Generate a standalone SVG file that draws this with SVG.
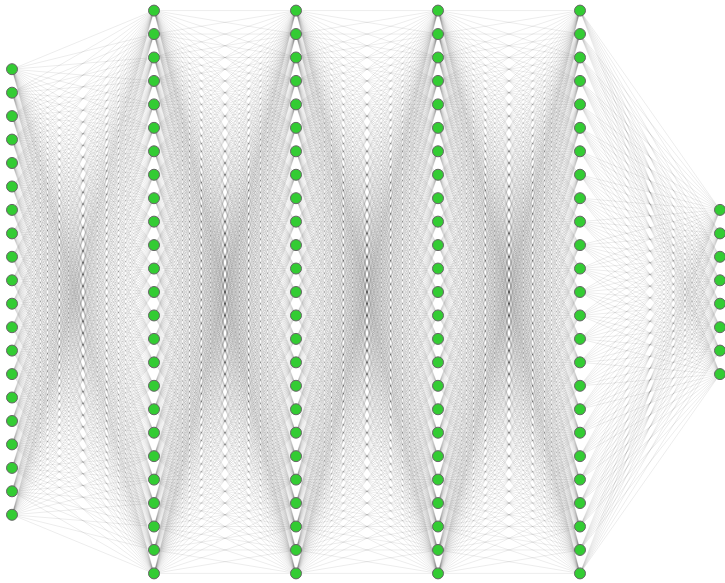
<svg xmlns="http://www.w3.org/2000/svg" xmlns:xlink="http://www.w3.org/1999/xlink" width="725" height="583" viewBox="0 0 725 583">
<style>
.e{fill:none;stroke:#000;stroke-opacity:.11;stroke-width:.7;vector-effect:non-scaling-stroke}
.n circle{fill:#33cc33;stroke:#666;stroke-width:1}
</style>
<defs>
<path id="f25" class="e" d="M-142 0L0 0M-142 0L0 23.45M-142 0L0 46.9M-142 0L0 70.35M-142 0L0 93.8M-142 0L0 117.25M-142 0L0 140.7M-142 0L0 164.15M-142 0L0 187.6M-142 0L0 211.05M-142 0L0 234.5M-142 0L0 257.95M-142 0L0 281.4M-142 0L0 304.85M-142 0L0 328.3M-142 0L0 351.75M-142 0L0 375.2M-142 0L0 398.65M-142 0L0 422.1M-142 0L0 445.55M-142 0L0 469M-142 0L0 492.45M-142 0L0 515.9M-142 0L0 539.35M-142 0L0 562.8"/>
<path id="f20" class="e" d="M-142 0L0 -58.625M-142 0L0 -35.175M-142 0L0 -11.725M-142 0L0 11.725M-142 0L0 35.175M-142 0L0 58.625M-142 0L0 82.075M-142 0L0 105.525M-142 0L0 128.975M-142 0L0 152.425M-142 0L0 175.875M-142 0L0 199.325M-142 0L0 222.775M-142 0L0 246.225M-142 0L0 269.675M-142 0L0 293.125M-142 0L0 316.575M-142 0L0 340.025M-142 0L0 363.475M-142 0L0 386.925M-142 0L0 410.375M-142 0L0 433.825M-142 0L0 457.275M-142 0L0 480.725M-142 0L0 504.175"/>
<path id="f8" class="e" d="M-140 0L0 199.325M-140 0L0 222.775M-140 0L0 246.225M-140 0L0 269.675M-140 0L0 293.125M-140 0L0 316.575M-140 0L0 340.025M-140 0L0 363.475"/>
<g id="k25">
<use href="#f25"/>
<use href="#f25" transform="matrix(1 -.165141 0 1 0 0)"/>
<use href="#f25" transform="matrix(1 -.330282 0 1 0 0)"/>
<use href="#f25" transform="matrix(1 -.495423 0 1 0 0)"/>
<use href="#f25" transform="matrix(1 -.660564 0 1 0 0)"/>
<use href="#f25" transform="matrix(1 -.825705 0 1 0 0)"/>
<use href="#f25" transform="matrix(1 -.990846 0 1 0 0)"/>
<use href="#f25" transform="matrix(1 -1.155987 0 1 0 0)"/>
<use href="#f25" transform="matrix(1 -1.321128 0 1 0 0)"/>
<use href="#f25" transform="matrix(1 -1.486269 0 1 0 0)"/>
<use href="#f25" transform="matrix(1 -1.65141 0 1 0 0)"/>
<use href="#f25" transform="matrix(1 -1.816551 0 1 0 0)"/>
<use href="#f25" transform="matrix(1 -1.981692 0 1 0 0)"/>
<use href="#f25" transform="matrix(1 -2.146833 0 1 0 0)"/>
<use href="#f25" transform="matrix(1 -2.311974 0 1 0 0)"/>
<use href="#f25" transform="matrix(1 -2.477115 0 1 0 0)"/>
<use href="#f25" transform="matrix(1 -2.642256 0 1 0 0)"/>
<use href="#f25" transform="matrix(1 -2.807397 0 1 0 0)"/>
<use href="#f25" transform="matrix(1 -2.972538 0 1 0 0)"/>
<use href="#f25" transform="matrix(1 -3.137679 0 1 0 0)"/>
<use href="#f25" transform="matrix(1 -3.30282 0 1 0 0)"/>
<use href="#f25" transform="matrix(1 -3.467961 0 1 0 0)"/>
<use href="#f25" transform="matrix(1 -3.633102 0 1 0 0)"/>
<use href="#f25" transform="matrix(1 -3.798243 0 1 0 0)"/>
<use href="#f25" transform="matrix(1 -3.963384 0 1 0 0)"/>
</g>
</defs>
<g id="connectors">
<g transform="translate(154 69.225)">
<use href="#f20"/>
<use href="#f20" transform="matrix(1 -.165141 0 1 0 0)"/>
<use href="#f20" transform="matrix(1 -.330282 0 1 0 0)"/>
<use href="#f20" transform="matrix(1 -.495423 0 1 0 0)"/>
<use href="#f20" transform="matrix(1 -.660564 0 1 0 0)"/>
<use href="#f20" transform="matrix(1 -.825705 0 1 0 0)"/>
<use href="#f20" transform="matrix(1 -.990846 0 1 0 0)"/>
<use href="#f20" transform="matrix(1 -1.155987 0 1 0 0)"/>
<use href="#f20" transform="matrix(1 -1.321128 0 1 0 0)"/>
<use href="#f20" transform="matrix(1 -1.486269 0 1 0 0)"/>
<use href="#f20" transform="matrix(1 -1.65141 0 1 0 0)"/>
<use href="#f20" transform="matrix(1 -1.816551 0 1 0 0)"/>
<use href="#f20" transform="matrix(1 -1.981692 0 1 0 0)"/>
<use href="#f20" transform="matrix(1 -2.146833 0 1 0 0)"/>
<use href="#f20" transform="matrix(1 -2.311974 0 1 0 0)"/>
<use href="#f20" transform="matrix(1 -2.477115 0 1 0 0)"/>
<use href="#f20" transform="matrix(1 -2.642256 0 1 0 0)"/>
<use href="#f20" transform="matrix(1 -2.807397 0 1 0 0)"/>
<use href="#f20" transform="matrix(1 -2.972538 0 1 0 0)"/>
<use href="#f20" transform="matrix(1 -3.137679 0 1 0 0)"/>
</g>
<use href="#k25" transform="translate(296 10.6)"/>
<use href="#k25" transform="translate(438 10.6)"/>
<use href="#k25" transform="translate(580 10.6)"/>
<g transform="translate(720 10.6)">
<use href="#f8"/>
<use href="#f8" transform="matrix(1 -.1675 0 1 0 0)"/>
<use href="#f8" transform="matrix(1 -.335 0 1 0 0)"/>
<use href="#f8" transform="matrix(1 -.5025 0 1 0 0)"/>
<use href="#f8" transform="matrix(1 -.67 0 1 0 0)"/>
<use href="#f8" transform="matrix(1 -.8375 0 1 0 0)"/>
<use href="#f8" transform="matrix(1 -1.005 0 1 0 0)"/>
<use href="#f8" transform="matrix(1 -1.1725 0 1 0 0)"/>
<use href="#f8" transform="matrix(1 -1.34 0 1 0 0)"/>
<use href="#f8" transform="matrix(1 -1.5075 0 1 0 0)"/>
<use href="#f8" transform="matrix(1 -1.675 0 1 0 0)"/>
<use href="#f8" transform="matrix(1 -1.8425 0 1 0 0)"/>
<use href="#f8" transform="matrix(1 -2.01 0 1 0 0)"/>
<use href="#f8" transform="matrix(1 -2.1775 0 1 0 0)"/>
<use href="#f8" transform="matrix(1 -2.345 0 1 0 0)"/>
<use href="#f8" transform="matrix(1 -2.5125 0 1 0 0)"/>
<use href="#f8" transform="matrix(1 -2.68 0 1 0 0)"/>
<use href="#f8" transform="matrix(1 -2.8475 0 1 0 0)"/>
<use href="#f8" transform="matrix(1 -3.015 0 1 0 0)"/>
<use href="#f8" transform="matrix(1 -3.1825 0 1 0 0)"/>
<use href="#f8" transform="matrix(1 -3.35 0 1 0 0)"/>
<use href="#f8" transform="matrix(1 -3.5175 0 1 0 0)"/>
<use href="#f8" transform="matrix(1 -3.685 0 1 0 0)"/>
<use href="#f8" transform="matrix(1 -3.8525 0 1 0 0)"/>
<use href="#f8" transform="matrix(1 -4.02 0 1 0 0)"/>
</g>
</g>
<g id="nodes" class="n">
<g id="n0_0"><circle cx="12" cy="69.2" r="5.5"/></g>
<g id="n0_1"><circle cx="12" cy="92.7" r="5.5"/></g>
<g id="n0_2"><circle cx="12" cy="116.1" r="5.5"/></g>
<g id="n0_3"><circle cx="12" cy="139.6" r="5.5"/></g>
<g id="n0_4"><circle cx="12" cy="163" r="5.5"/></g>
<g id="n0_5"><circle cx="12" cy="186.5" r="5.5"/></g>
<g id="n0_6"><circle cx="12" cy="209.9" r="5.5"/></g>
<g id="n0_7"><circle cx="12" cy="233.4" r="5.5"/></g>
<g id="n0_8"><circle cx="12" cy="256.8" r="5.5"/></g>
<g id="n0_9"><circle cx="12" cy="280.3" r="5.5"/></g>
<g id="n0_10"><circle cx="12" cy="303.7" r="5.5"/></g>
<g id="n0_11"><circle cx="12" cy="327.2" r="5.5"/></g>
<g id="n0_12"><circle cx="12" cy="350.6" r="5.5"/></g>
<g id="n0_13"><circle cx="12" cy="374.1" r="5.5"/></g>
<g id="n0_14"><circle cx="12" cy="397.5" r="5.5"/></g>
<g id="n0_15"><circle cx="12" cy="421" r="5.5"/></g>
<g id="n0_16"><circle cx="12" cy="444.4" r="5.5"/></g>
<g id="n0_17"><circle cx="12" cy="467.9" r="5.5"/></g>
<g id="n0_18"><circle cx="12" cy="491.3" r="5.5"/></g>
<g id="n0_19"><circle cx="12" cy="514.8" r="5.5"/></g>
<g id="n1_0"><circle cx="154" cy="10.6" r="5.5"/></g>
<g id="n1_1"><circle cx="154" cy="34.05" r="5.5"/></g>
<g id="n1_2"><circle cx="154" cy="57.5" r="5.5"/></g>
<g id="n1_3"><circle cx="154" cy="80.95" r="5.5"/></g>
<g id="n1_4"><circle cx="154" cy="104.4" r="5.5"/></g>
<g id="n1_5"><circle cx="154" cy="127.85" r="5.5"/></g>
<g id="n1_6"><circle cx="154" cy="151.3" r="5.5"/></g>
<g id="n1_7"><circle cx="154" cy="174.75" r="5.5"/></g>
<g id="n1_8"><circle cx="154" cy="198.2" r="5.5"/></g>
<g id="n1_9"><circle cx="154" cy="221.65" r="5.5"/></g>
<g id="n1_10"><circle cx="154" cy="245.1" r="5.5"/></g>
<g id="n1_11"><circle cx="154" cy="268.55" r="5.5"/></g>
<g id="n1_12"><circle cx="154" cy="292" r="5.5"/></g>
<g id="n1_13"><circle cx="154" cy="315.45" r="5.5"/></g>
<g id="n1_14"><circle cx="154" cy="338.9" r="5.5"/></g>
<g id="n1_15"><circle cx="154" cy="362.35" r="5.5"/></g>
<g id="n1_16"><circle cx="154" cy="385.8" r="5.5"/></g>
<g id="n1_17"><circle cx="154" cy="409.25" r="5.5"/></g>
<g id="n1_18"><circle cx="154" cy="432.7" r="5.5"/></g>
<g id="n1_19"><circle cx="154" cy="456.15" r="5.5"/></g>
<g id="n1_20"><circle cx="154" cy="479.6" r="5.5"/></g>
<g id="n1_21"><circle cx="154" cy="503.05" r="5.5"/></g>
<g id="n1_22"><circle cx="154" cy="526.5" r="5.5"/></g>
<g id="n1_23"><circle cx="154" cy="549.95" r="5.5"/></g>
<g id="n1_24"><circle cx="154" cy="573.4" r="5.5"/></g>
<g id="n2_0"><circle cx="296" cy="10.6" r="5.5"/></g>
<g id="n2_1"><circle cx="296" cy="34.05" r="5.5"/></g>
<g id="n2_2"><circle cx="296" cy="57.5" r="5.5"/></g>
<g id="n2_3"><circle cx="296" cy="80.95" r="5.5"/></g>
<g id="n2_4"><circle cx="296" cy="104.4" r="5.5"/></g>
<g id="n2_5"><circle cx="296" cy="127.85" r="5.5"/></g>
<g id="n2_6"><circle cx="296" cy="151.3" r="5.5"/></g>
<g id="n2_7"><circle cx="296" cy="174.75" r="5.5"/></g>
<g id="n2_8"><circle cx="296" cy="198.2" r="5.5"/></g>
<g id="n2_9"><circle cx="296" cy="221.65" r="5.5"/></g>
<g id="n2_10"><circle cx="296" cy="245.1" r="5.5"/></g>
<g id="n2_11"><circle cx="296" cy="268.55" r="5.5"/></g>
<g id="n2_12"><circle cx="296" cy="292" r="5.5"/></g>
<g id="n2_13"><circle cx="296" cy="315.45" r="5.5"/></g>
<g id="n2_14"><circle cx="296" cy="338.9" r="5.5"/></g>
<g id="n2_15"><circle cx="296" cy="362.35" r="5.5"/></g>
<g id="n2_16"><circle cx="296" cy="385.8" r="5.5"/></g>
<g id="n2_17"><circle cx="296" cy="409.25" r="5.5"/></g>
<g id="n2_18"><circle cx="296" cy="432.7" r="5.5"/></g>
<g id="n2_19"><circle cx="296" cy="456.15" r="5.5"/></g>
<g id="n2_20"><circle cx="296" cy="479.6" r="5.5"/></g>
<g id="n2_21"><circle cx="296" cy="503.05" r="5.5"/></g>
<g id="n2_22"><circle cx="296" cy="526.5" r="5.5"/></g>
<g id="n2_23"><circle cx="296" cy="549.95" r="5.5"/></g>
<g id="n2_24"><circle cx="296" cy="573.4" r="5.5"/></g>
<g id="n3_0"><circle cx="438" cy="10.6" r="5.5"/></g>
<g id="n3_1"><circle cx="438" cy="34.05" r="5.5"/></g>
<g id="n3_2"><circle cx="438" cy="57.5" r="5.5"/></g>
<g id="n3_3"><circle cx="438" cy="80.95" r="5.5"/></g>
<g id="n3_4"><circle cx="438" cy="104.4" r="5.5"/></g>
<g id="n3_5"><circle cx="438" cy="127.85" r="5.5"/></g>
<g id="n3_6"><circle cx="438" cy="151.3" r="5.5"/></g>
<g id="n3_7"><circle cx="438" cy="174.75" r="5.5"/></g>
<g id="n3_8"><circle cx="438" cy="198.2" r="5.5"/></g>
<g id="n3_9"><circle cx="438" cy="221.65" r="5.5"/></g>
<g id="n3_10"><circle cx="438" cy="245.1" r="5.5"/></g>
<g id="n3_11"><circle cx="438" cy="268.55" r="5.5"/></g>
<g id="n3_12"><circle cx="438" cy="292" r="5.5"/></g>
<g id="n3_13"><circle cx="438" cy="315.45" r="5.5"/></g>
<g id="n3_14"><circle cx="438" cy="338.9" r="5.5"/></g>
<g id="n3_15"><circle cx="438" cy="362.35" r="5.5"/></g>
<g id="n3_16"><circle cx="438" cy="385.8" r="5.5"/></g>
<g id="n3_17"><circle cx="438" cy="409.25" r="5.5"/></g>
<g id="n3_18"><circle cx="438" cy="432.7" r="5.5"/></g>
<g id="n3_19"><circle cx="438" cy="456.15" r="5.5"/></g>
<g id="n3_20"><circle cx="438" cy="479.6" r="5.5"/></g>
<g id="n3_21"><circle cx="438" cy="503.05" r="5.5"/></g>
<g id="n3_22"><circle cx="438" cy="526.5" r="5.5"/></g>
<g id="n3_23"><circle cx="438" cy="549.95" r="5.5"/></g>
<g id="n3_24"><circle cx="438" cy="573.4" r="5.5"/></g>
<g id="n4_0"><circle cx="580" cy="10.6" r="5.5"/></g>
<g id="n4_1"><circle cx="580" cy="34.05" r="5.5"/></g>
<g id="n4_2"><circle cx="580" cy="57.5" r="5.5"/></g>
<g id="n4_3"><circle cx="580" cy="80.95" r="5.5"/></g>
<g id="n4_4"><circle cx="580" cy="104.4" r="5.5"/></g>
<g id="n4_5"><circle cx="580" cy="127.85" r="5.5"/></g>
<g id="n4_6"><circle cx="580" cy="151.3" r="5.5"/></g>
<g id="n4_7"><circle cx="580" cy="174.75" r="5.5"/></g>
<g id="n4_8"><circle cx="580" cy="198.2" r="5.5"/></g>
<g id="n4_9"><circle cx="580" cy="221.65" r="5.5"/></g>
<g id="n4_10"><circle cx="580" cy="245.1" r="5.5"/></g>
<g id="n4_11"><circle cx="580" cy="268.55" r="5.5"/></g>
<g id="n4_12"><circle cx="580" cy="292" r="5.5"/></g>
<g id="n4_13"><circle cx="580" cy="315.45" r="5.5"/></g>
<g id="n4_14"><circle cx="580" cy="338.9" r="5.5"/></g>
<g id="n4_15"><circle cx="580" cy="362.35" r="5.5"/></g>
<g id="n4_16"><circle cx="580" cy="385.8" r="5.5"/></g>
<g id="n4_17"><circle cx="580" cy="409.25" r="5.5"/></g>
<g id="n4_18"><circle cx="580" cy="432.7" r="5.5"/></g>
<g id="n4_19"><circle cx="580" cy="456.15" r="5.5"/></g>
<g id="n4_20"><circle cx="580" cy="479.6" r="5.5"/></g>
<g id="n4_21"><circle cx="580" cy="503.05" r="5.5"/></g>
<g id="n4_22"><circle cx="580" cy="526.5" r="5.5"/></g>
<g id="n4_23"><circle cx="580" cy="549.95" r="5.5"/></g>
<g id="n4_24"><circle cx="580" cy="573.4" r="5.5"/></g>
<g id="n5_0"><circle cx="720" cy="209.9" r="5.5"/></g>
<g id="n5_1"><circle cx="720" cy="233.4" r="5.5"/></g>
<g id="n5_2"><circle cx="720" cy="256.8" r="5.5"/></g>
<g id="n5_3"><circle cx="720" cy="280.3" r="5.5"/></g>
<g id="n5_4"><circle cx="720" cy="303.7" r="5.5"/></g>
<g id="n5_5"><circle cx="720" cy="327.2" r="5.5"/></g>
<g id="n5_6"><circle cx="720" cy="350.6" r="5.5"/></g>
<g id="n5_7"><circle cx="720" cy="374.1" r="5.5"/></g>
</g>
</svg>
